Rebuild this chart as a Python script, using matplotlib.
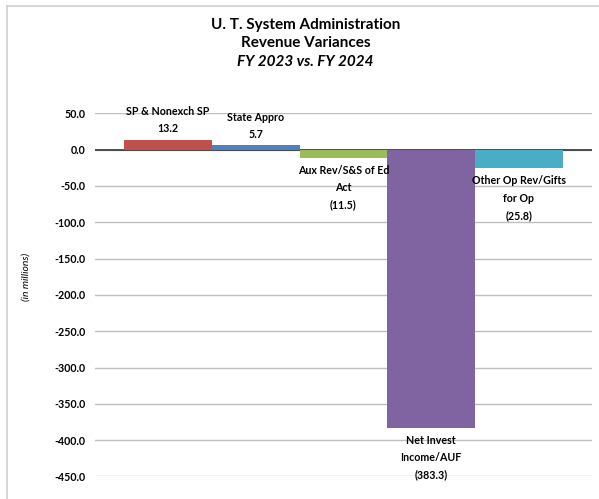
import matplotlib.pyplot as plt
from matplotlib.lines import Line2D

# chart data
categories = [
    'SP & Nonexch SP',
    'State Appro',
    'Aux Rev/S&S of Ed\nAct',
    'Net Invest\nIncome/AUF',
    'Other Op Rev/Gifts\nfor Op',
]
variances = [13.2, 5.7, -11.5, -383.3, -25.8]
colors = ['#C0504D', '#4F81BD', '#9BBB59', '#8064A2', '#4BACC6']
y_ticks = [50, 0, -50, -100, -150, -200, -250, -300, -350, -400, -450]

plt.rcParams['font.family'] = ['Lato', 'DejaVu Sans']

fig = plt.figure(figsize=(5.99, 4.99), dpi=100)
ax = fig.add_axes([0.1586, 0.0451, 0.8294, 0.7279])

x = list(range(len(categories)))
ax.bar(x, variances, width=1.0, color=colors, zorder=3)

# data labels: name + value, above positive bars, below negative ones
for xi, name, val in zip(x, categories, variances):
    txt = f'{val:.1f}' if val >= 0 else f'({abs(val):.1f})'
    if val >= 0:
        ax.annotate(f'{name}\n{txt}', (xi, val), xytext=(0, 4),
                    textcoords='offset points', ha='center', va='bottom',
                    fontsize=7.7, fontweight='bold', linespacing=1.7,
                    zorder=4)
    else:
        ax.annotate(f'{name}\n{txt}', (xi, val), xytext=(0, -5),
                    textcoords='offset points', ha='center', va='top',
                    fontsize=7.7, fontweight='bold', linespacing=1.7,
                    zorder=4)

ax.set_xlim(-0.83, 4.83)
ax.set_ylim(-450, 50)
ax.set_yticks(y_ticks)
ax.set_yticklabels([f'{t:.1f}' for t in y_ticks], fontsize=7.7,
                   fontweight='bold')
ax.tick_params(axis='y', length=0, pad=7)
ax.set_xticks([])

ax.grid(axis='y', color='#BFBFBF', linewidth=1.0, zorder=0)
ax.axhline(0, color='#404040', linewidth=1.3, zorder=2)
for s in ax.spines.values():
    s.set_visible(False)

ax.set_ylabel('(in millions)', fontsize=7.5, fontstyle='italic',
              labelpad=0)
ax.yaxis.set_label_coords(-0.13, 0.55)

# title
fig.text(0.51, 0.949, 'U. T. System Administration', ha='center',
         va='center', fontsize=11, fontweight='bold')
fig.text(0.51, 0.913, 'Revenue Variances', ha='center', va='center',
         fontsize=11, fontweight='bold')
fig.text(0.51, 0.876, 'FY 2023 vs. FY 2024', ha='center', va='center',
         fontsize=11, fontweight='bold', fontstyle='italic')

# chart area border
fig.add_artist(Line2D([0.012, 1.0], [0.987, 0.987], color='#D0D0D0',
                      linewidth=1.2))
fig.add_artist(Line2D([0.012, 0.012], [0.0, 0.987], color='#D0D0D0',
                      linewidth=1.2))

fig.savefig('out.png', dpi=100)
